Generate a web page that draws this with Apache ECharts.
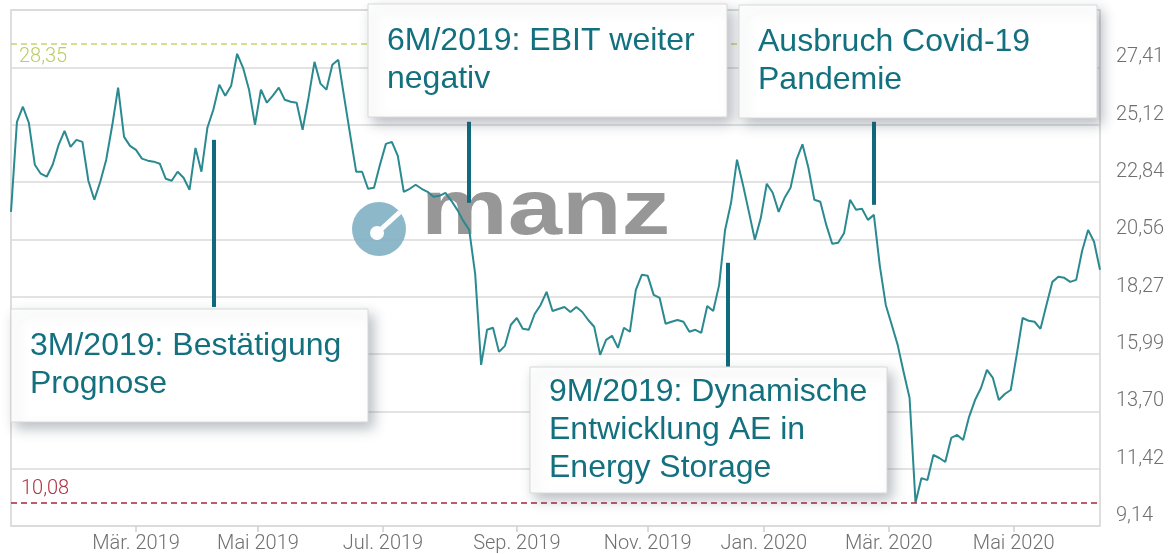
<!DOCTYPE html>
<html><head><meta charset="utf-8">
<script src="https://cdn.jsdelivr.net/npm/echarts@6/dist/echarts.min.js"></script>
<style>html,body{margin:0;padding:0;background:#fff}#c{width:1171px;height:554px}</style>
</head><body><div id="c"></div>
<script>
// ---- data ----
const startDate = '2019-01-02';
const endDate = '2020-06-12';
const holidays = ['2019-01-01','2019-04-19','2019-04-22','2019-05-01','2019-12-24','2019-12-25','2019-12-26','2019-12-31','2020-01-01','2020-04-10','2020-04-13','2020-05-01'];
// closing prices (EUR), one value every second trading day
const prices = [
21.66,25.25,25.85,25.21,23.54,23.18,23.06,23.54,24.33,24.89,
24.25,24.53,24.45,22.90,22.14,22.86,23.74,25.09,26.61,24.65,
24.29,24.13,23.78,23.70,23.66,23.58,22.98,22.90,23.26,23.02,
22.54,24.21,23.26,25.01,25.73,26.73,26.29,26.69,27.96,27.40,
26.53,25.13,26.53,26.01,26.29,26.61,26.13,26.05,26.01,24.93,
26.21,27.64,26.77,26.53,27.52,27.72,26.21,24.73,23.26,23.26,
22.58,22.62,23.54,24.37,24.45,23.89,22.46,22.58,22.74,22.58,
22.46,22.26,22.30,22.42,22.10,21.74,21.30,20.94,19.19,15.56,
16.96,17.04,16.08,16.32,17.16,17.43,17.00,16.96,17.59,17.95,
18.47,17.71,17.79,17.87,17.67,17.87,17.67,17.35,17.08,15.96,
16.56,16.72,16.24,17.04,16.88,18.55,19.15,19.11,18.35,18.23,
17.20,17.28,17.35,17.28,16.88,16.96,16.84,17.91,17.71,18.75,
20.94,22.02,23.74,22.74,21.66,20.55,21.42,22.78,22.42,21.66,
22.22,22.62,23.74,24.35,23.42,22.14,22.06,21.14,20.39,20.43,
20.82,22.14,21.74,21.78,21.34,21.54,19.51,17.95,17.16,16.36,
15.28,14.24,10.08,11.05,10.97,11.97,11.85,11.69,12.65,12.77,
12.57,13.49,14.16,14.64,15.36,15.04,14.16,14.40,14.56,15.96,
17.43,17.32,17.28,17.00,17.95,18.87,19.07,19.03,18.87,18.95,
20.11,20.94,20.47,19.35
];
const yMin = 9.14, yStep = 2.285, yMax = 29.705;
const yTickLabels = ['9,14','11,42','13,70','15,99','18,27','20,56','22,84','25,12','27,41'];
const xTickMonths = ['2019-03','2019-05','2019-07','2019-09','2019-11','2020-01','2020-03','2020-05'];
const xTickLabels = ['Mär. 2019','Mai 2019','Jul. 2019','Sep. 2019','Nov. 2019','Jan. 2020','Mär. 2020','Mai 2020'];
const refHigh = 28.35, refLow = 10.08;
const annoTexts = ['3M/2019: Bestätigung\nPrognose','6M/2019: EBIT weiter\nnegativ','9M/2019: Dynamische\nEntwicklung AE in\nEnergy Storage','Ausbruch Covid-19\nPandemie'];
const annoDates = ['2019-04-08','2019-08-09','2019-12-10','2020-02-24'];
const annoFrom = [24.53,25.25,19.63,25.25];
const annoTo = [17.87,22.02,15.48,21.94];

// ---- build ----
function tradingDays(s, e, hol){
  const out=[]; let d=new Date(s+'T00:00:00Z'); const end=new Date(e+'T00:00:00Z');
  while(d<=end){ const wd=d.getUTCDay(); const ds=d.toISOString().slice(0,10);
    if(wd!==0&&wd!==6&&hol.indexOf(ds)<0) out.push(ds);
    d.setUTCDate(d.getUTCDate()+1);}
  return out;
}
const days = tradingDays(startDate, endDate, holidays);
const sampleDates = days.filter((d,i)=>i%2===0);
const seriesData = prices.map((p,j)=>[sampleDates[j], p]);
const tickDays = xTickMonths.map(m=>days.find(d=>d.indexOf(m)===0));
const isTick = (i, v) => tickDays.indexOf(v) >= 0;
const fmtDe = v => v.toFixed(2).replace('.', ',');

const TEXT_COLOR = '#12707f';
const MARK_COLOR = '#0f6b7d';
const boxes = [[11,309,357,113],[368,4,359,113],[530,367,357,126],[739,5,358,113]];

const graphics = [];
// logo (watermark)
graphics.push({type:'circle', z:1, shape:{cx:379, cy:229, r:27}, style:{fill:'#7fb0c3', opacity:0.9}});
graphics.push({type:'circle', z:1, shape:{cx:377, cy:233, r:7}, style:{fill:'#ffffff'}});
graphics.push({type:'line', z:1, shape:{x1:377, y1:233, x2:400, y2:212}, style:{stroke:'#ffffff', lineWidth:5}});
graphics.push({type:'text', z:1, x:421, y:251, scaleX:1.25, style:{text:'manz', fill:'#8c8c8c', opacity:0.9, font:'bold 78px "Liberation Sans"', verticalAlign:'bottom'}});
boxes.forEach((b,i)=>{
  graphics.push({type:'rect', z:10, shape:{x:b[0], y:b[1], width:b[2], height:b[3]},
    style:{fill:'#ffffff', stroke:'#d8d8d8', lineWidth:1, shadowBlur:12, shadowColor:'rgba(60,75,90,0.35)', shadowOffsetX:5, shadowOffsetY:6}});
  graphics.push({type:'text', z:11, x:b[0]+19, y:b[1]+b[3]/2,
    style:{text:annoTexts[i], fill:TEXT_COLOR, font:'32px "Liberation Sans"', lineHeight:38, verticalAlign:'middle', align:'left'}});
});

const markData = [
  {yAxis: refHigh, lineStyle:{color:'#c6d66c', type:[6,4], width:1.5},
   label:{show:true, position:'insideStartBottom', formatter: fmtDe(refHigh), color:'#bccd64', fontSize:20, fontFamily:'Roboto', fontWeight:300, distance:[8,3]}},
  {yAxis: refLow, lineStyle:{color:'#a8283c', type:[6,4], width:1.5},
   label:{show:true, position:'insideStartTop', formatter: fmtDe(refLow), color:'#b03245', fontSize:20, fontFamily:'Roboto', fontWeight:300, distance:[10,3]}}
];
annoDates.forEach((d,i)=>{
  markData.push([{coord:[d, annoFrom[i]], lineStyle:{color:MARK_COLOR, width:4, type:'solid'}, label:{show:false}}, {coord:[d, annoTo[i]]}]);
});

const chart = echarts.init(document.getElementById('c'), null, {renderer:'canvas'});
chart.setOption({
  animation:false,
  backgroundColor:'#ffffff',
  grid:{left:11, right:71, top:10, bottom:28, show:true, borderColor:'#d4d4d4', borderWidth:1.5, backgroundColor:'transparent'},
  xAxis:{type:'category', data:days, boundaryGap:false,
    axisLine:{show:false},
    axisTick:{show:true, interval:isTick, length:6, lineStyle:{color:'#cfcfcf', width:1.5}},
    axisLabel:{interval:isTick, margin:8, color:'#707070', fontSize:20, fontFamily:'Roboto', fontWeight:300,
      formatter:(v)=>{const k=tickDays.indexOf(v); return k>=0?xTickLabels[k]:'';}},
    splitLine:{show:false}},
  yAxis:{type:'value', position:'right', min:yMin, max:yMax, interval:yStep,
    axisLine:{show:false}, axisTick:{show:false},
    splitLine:{show:true, lineStyle:{color:'#dadada', width:1.5}},
    axisLabel:{margin:16, color:'#707070', fontSize:20, fontFamily:'Roboto', fontWeight:300, verticalAlign:'bottom',
      formatter:(v)=>{const k=Math.round((v-yMin)/yStep); return (Math.abs(v-(yMin+k*yStep))<1e-6 && k>=0 && k<yTickLabels.length)?yTickLabels[k]:'';}}},
  series:[{type:'line', data:seriesData, showSymbol:false, symbol:'none', z:3,
    lineStyle:{color:'#2a8a90', width:2}, silent:true,
    markLine:{silent:true, symbol:['none','none'], animation:false, data:markData}}],
  graphic:graphics
});
</script></body></html>
